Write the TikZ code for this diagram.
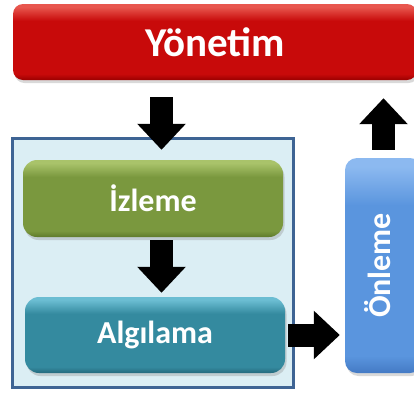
\documentclass[tikz,border=0pt]{standalone}
\usepackage{fontspec}
\setmainfont{Carlito}
\usetikzlibrary{arrows.meta,shadows,calc}

\definecolor{redbase}{HTML}{C80A0A}
\definecolor{redtop}{HTML}{E8564E}
\definecolor{redbot}{HTML}{9A0000}
\definecolor{grnbase}{HTML}{7A983E}
\definecolor{grntop}{HTML}{A9C36A}
\definecolor{grnbot}{HTML}{5E7A2B}
\definecolor{tealbase}{HTML}{348A9F}
\definecolor{tealtop}{HTML}{6BBDD2}
\definecolor{tealbot}{HTML}{24697D}
\definecolor{bluebase}{HTML}{5A95DE}
\definecolor{bluetop}{HTML}{8CB9F0}
\definecolor{bluebot}{HTML}{447AC4}
\definecolor{panelfill}{HTML}{DBEEF4}
\definecolor{panelline}{HTML}{3E6494}

% flat body with a light rim on top and a darker rim at the bottom
\newcommand\glossshading[1]{%
  \pgfdeclareverticalshading{#1gloss}{100bp}{%
    color(0bp)=(#1bot); color(25bp)=(#1bot); color(29bp)=(#1base);
    color(64bp)=(#1base); color(73bp)=(#1top); color(75bp)=(#1top);
    color(100bp)=(#1top)}}
\glossshading{red}
\glossshading{grn}
\glossshading{teal}
\glossshading{blue}

\tikzset{
  stage/.style={rounded corners=14pt, inner sep=0pt, text=white,
    font=\bfseries\fontsize{32}{36}\selectfont,
    drop shadow={opacity=0.3, shadow xshift=1.5pt, shadow yshift=-3pt}},
  redstage/.style={stage, shading=redgloss},
  grnstage/.style={stage, shading=grngloss},
  tealstage/.style={stage, shading=tealgloss},
  bluestage/.style={stage, shading=bluegloss},
  panel/.style={draw=panelline, line width=3pt, fill=panelfill, inner sep=0pt},
  blockarrow/.style={line width=23pt, black,
    -{Triangle[length=26pt, width=47pt]}},
}

\begin{document}
\begin{tikzpicture}[x=1pt, y=-1pt]
  \useasboundingbox (0,0) rectangle (414,392);
  \clip (0,0) rectangle (414,392);

  % surrounding panel of the detection stages
  \node[panel, minimum width=281pt, minimum height=249pt] (panel) at (152.5,262.5) {};

  % stages
  \node[redstage, minimum width=404pt, minimum height=76pt, rounded corners=10pt,
    font=\bfseries\fontsize{41}{44}\selectfont] (yon) at (215,42) {Yönetim};
  \node[grnstage, minimum width=260pt, minimum height=77pt] (izl) at (153,198.5) {İzleme};
  \node[tealstage, minimum width=260pt, minimum height=76pt] (alg) at (155,335) {Algılama};
  \node[bluestage, minimum width=77pt, minimum height=215pt, rounded corners=12pt]
    (onl) at (383.5,265.5) {};
  \node[text=white, font=\bfseries\fontsize{32}{36}\selectfont, rotate=90, inner sep=0pt]
    (onltxt) at (378,265.5) {Önleme};

  % flow arrows
  \coordinate (flowx) at (161.5,0);
  \draw[blockarrow, shorten <=17pt, shorten >=10pt]
    (yon.south -| flowx) -- (izl.north -| flowx);
  \draw[blockarrow, shorten <=3pt, shorten >=4pt]
    (izl.south -| flowx) -- (alg.north -| flowx);
  \draw[blockarrow, shorten <=3pt, shorten >=5pt]
    (alg.east) -- (alg.east -| onl.west);
  \draw[blockarrow, shorten <=8pt, shorten >=18pt]
    (onl.north) -- (onl.north |- yon.south);
\end{tikzpicture}
\end{document}
